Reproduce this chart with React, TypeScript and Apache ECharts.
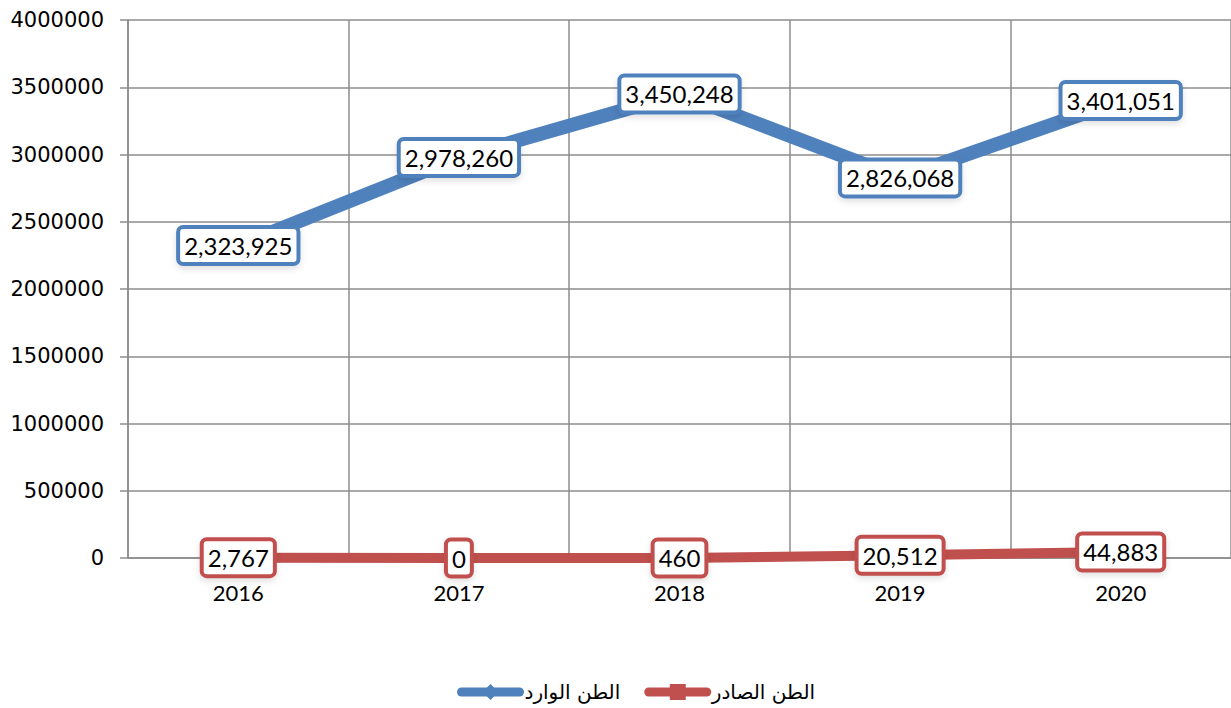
import React, { useEffect, useRef } from "react";
import * as echarts from "echarts";

const categories = ["2016", "2017", "2018", "2019", "2020"];
const inboundName = "الطن الوارد";
const outboundName = "الطن الصادر";
const inboundValues = [2323925, 2978260, 3450248, 2826068, 3401051];
const outboundValues = [2767, 0, 460, 20512, 44883];

const BLUE = "#4f81bd";
const RED = "#c0504d";
const GRID = "#8c8c8c";

const fmt = (v: number) => v.toLocaleString("en-US");

export default function App() {
  const ref = useRef<HTMLDivElement>(null);
  useEffect(() => {
    if (!ref.current) return;
    const chart = echarts.init(ref.current, undefined, { renderer: "svg" });
    const label = (color: string) => ({
      show: true,
      position: "inside",
      formatter: (p: any) => fmt(p.value),
      fontFamily: "Lato",
      fontSize: 24,
      color: "#000",
      backgroundColor: "#fff",
      borderColor: color,
      borderWidth: 4,
      borderRadius: 3,
      padding: [5, 4, 4, 4],
      shadowColor: "rgba(0,0,0,0.12)",
      shadowBlur: 6,
      shadowOffsetY: 3,
    });
    chart.setOption({
      animation: false,
      grid: { left: 128, right: 0, top: 20, bottom: 150, containLabel: false },
      legend: {
        top: 677,
        left: 452,
        itemWidth: 58,
        itemHeight: 20,
        itemGap: 24,
        textStyle: { fontFamily: "DejaVu Sans", fontSize: 20, color: "#000" },
        lineStyle: { width: 9, cap: "round" },
        data: [inboundName, outboundName],
      },
      xAxis: {
        type: "category",
        data: categories,
        boundaryGap: true,
        axisLine: { lineStyle: { color: GRID, width: 1.5 } },
        axisTick: { show: false },
        splitLine: { show: true, lineStyle: { color: GRID, width: 1.5 } },
        axisLabel: { fontFamily: "Lato", fontSize: 22, color: "#000", margin: 23 },
      },
      yAxis: {
        type: "value",
        min: 0,
        max: 4000000,
        interval: 500000,
        axisLine: { show: true, lineStyle: { color: GRID, width: 1.5 } },
        axisTick: { show: true, length: 8, lineStyle: { color: GRID, width: 1.5 } },
        splitLine: { show: true, lineStyle: { color: GRID, width: 1.5 } },
        axisLabel: {
          fontFamily: "DejaVu Sans",
          fontSize: 21,
          color: "#000",
          margin: 24,
          formatter: (v: number) => String(v),
        },
      },
      series: [
        {
          name: inboundName,
          type: "line",
          data: inboundValues,
          symbol: "diamond",
          symbolSize: 16,
          itemStyle: { color: BLUE },
          lineStyle: { color: BLUE, width: 14 },
          label: label(BLUE),
          z: 3,
        },
        {
          name: outboundName,
          type: "line",
          data: outboundValues,
          symbol: "rect",
          symbolSize: 16,
          itemStyle: { color: RED },
          lineStyle: { color: RED, width: 10 },
          label: label(RED),
          z: 4,
        },
      ],
    });
    return () => chart.dispose();
  }, []);
  return (
    <div
      ref={ref}
      style={{ position: "fixed", left: 0, top: 0, width: 1231, height: 708, background: "#fff" }}
    />
  );
}
